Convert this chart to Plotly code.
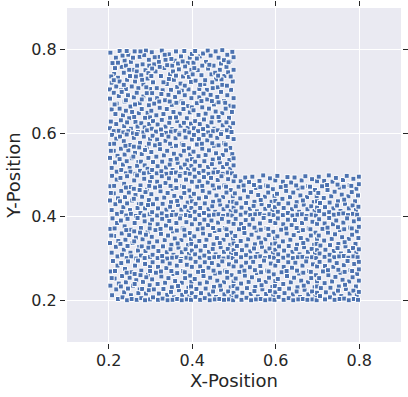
import plotly.graph_objects as go

upper_left_points = [
(.204,.793),(.217,.781),(.209,.768),(.226,.797),(.238,.774),(.231,.759),(.247,.788),(.253,.771),(.262,.796),(.259,.752),(.274,.783),(.281,.765),(.289,.798),(.296,.776),(.213,.742),(.222,.733),(.207,.721),(.236,.745),(.244,.728),(.218,.712),(.251,.737),(.267,.748),(.263,.724),(.278,.739),(.271,.708),(.288,.751),(.293,.731),(.283,.717),(.299,.706),(.241,.706),(.255,.712),(.229,.703),(.203,.705),(.241,.762),(.268,.762),(.285,.787),(.215,.756),(.297,.762),(.233,.786),(.276,.796),(.206,.736),(.249,.752),(.28,.728),(.226,.724),(.295,.744),(.265,.736),(.236,.716),(.212,.727),(.258,.781),(.29,.71),(.243,.797),(.222,.769),
(.303,.794),(.318,.783),(.309,.765),(.327,.798),(.336,.776),(.344,.789),(.352,.762),(.361,.796),(.358,.774),(.373,.784),(.381,.797),(.389,.768),(.394,.781),(.312,.748),(.325,.737),(.306,.722),(.333,.756),(.347,.741),(.339,.718),(.356,.728),(.368,.753),(.364,.711),(.378,.736),(.386,.744),(.397,.723),(.391,.705),(.372,.719),(.315,.708),(.302,.737),(.329,.703),(.349,.704),(.383,.76),(.32,.771),(.34,.763),(.366,.767),(.398,.752),(.354,.748),(.382,.714),(.31,.782),(.331,.722),(.344,.73),(.399,.79),(.377,.772),(.361,.738),(.392,.735),(.304,.755),(.322,.759),(.35,.778),(.375,.702),(.334,.788),
(.407,.797),(.418,.784),(.403,.769),(.426,.791),(.437,.798),(.433,.771),(.444,.786),(.456,.796),(.451,.762),(.463,.781),(.472,.799),(.469,.767),(.484,.788),(.496,.795),(.491,.773),(.413,.751),(.422,.739),(.408,.726),(.438,.755),(.446,.741),(.429,.718),(.457,.729),(.466,.752),(.461,.71),(.477,.737),(.486,.746),(.497,.724),(.493,.704),(.472,.716),(.417,.706),(.401,.741),(.435,.704),(.449,.708),(.482,.759),(.424,.762),(.441,.764),(.476,.775),(.499,.752),(.455,.745),(.483,.714),(.411,.779),(.431,.727),(.448,.722),(.499,.782),(.47,.729),(.462,.738),(.492,.736),(.405,.756),(.419,.716),(.487,.77),
(.212,.697),(.203,.683),(.224,.689),(.219,.671),(.231,.699),(.238,.676),(.246,.691),(.252,.664),(.26,.686),(.267,.697),(.274,.672),(.283,.688),(.291,.696),(.296,.667),(.207,.657),(.216,.646),(.226,.659),(.234,.643),(.241,.654),(.249,.636),(.256,.651),(.264,.627),(.272,.648),(.279,.658),(.287,.637),(.293,.649),(.205,.628),(.218,.622),(.229,.631),(.237,.617),(.244,.626),(.253,.611),(.261,.639),(.269,.616),(.278,.624),(.286,.614),(.297,.622),(.203,.612),(.212,.605),(.224,.606),(.235,.602),(.247,.605),(.258,.6),(.27,.603),(.283,.602),(.292,.607),(.214,.669),(.241,.679),(.279,.681),(.299,.681),(.263,.669),(.299,.638),
(.304,.696),(.316,.684),(.326,.694),(.309,.671),(.335,.679),(.343,.692),(.351,.668),(.359,.687),(.368,.698),(.374,.676),(.382,.691),(.39,.665),(.398,.684),(.302,.654),(.314,.643),(.322,.661),(.331,.646),(.339,.658),(.347,.637),(.355,.651),(.364,.629),(.37,.647),(.379,.658),(.387,.636),(.394,.65),(.306,.629),(.317,.621),(.327,.632),(.336,.616),(.345,.625),(.352,.61),(.361,.638),(.372,.618),(.38,.625),(.389,.613),(.397,.623),(.303,.611),(.313,.604),(.325,.609),(.337,.601),(.349,.604),(.36,.606),(.37,.601),(.382,.606),(.393,.602),(.321,.676),(.346,.676),(.378,.672),(.399,.662),(.362,.673),
(.405,.697),(.417,.686),(.427,.695),(.411,.672),(.436,.681),(.444,.692),(.452,.669),(.46,.687),(.469,.699),(.476,.677),(.484,.691),(.491,.666),(.499,.684),(.403,.655),(.415,.644),(.424,.662),(.432,.647),(.44,.659),(.448,.638),(.456,.652),(.465,.63),(.472,.648),(.48,.659),(.488,.637),(.495,.651),(.407,.629),(.418,.622),(.428,.633),(.437,.617),(.446,.626),(.453,.611),(.463,.639),(.473,.619),(.482,.626),(.49,.614),(.498,.624),(.404,.612),(.414,.605),(.426,.61),(.438,.602),(.45,.605),(.461,.607),(.471,.602),(.483,.607),(.494,.603),(.422,.677),(.447,.677),(.479,.673),(.499,.664),(.463,.674),
(.208,.596),(.218,.587),(.204,.574),(.227,.592),(.236,.581),(.243,.597),(.251,.572),(.26,.589),(.267,.598),(.275,.577),(.284,.592),(.291,.566),(.299,.586),(.212,.558),(.221,.546),(.229,.563),(.238,.549),(.247,.559),(.255,.54),(.263,.553),(.271,.531),(.279,.55),(.287,.56),(.295,.541),(.203,.541),(.215,.53),(.226,.538),(.234,.525),(.243,.533),(.25,.517),(.259,.544),(.268,.522),(.277,.532),(.286,.523),(.293,.515),(.207,.517),(.219,.508),(.23,.512),(.241,.504),(.252,.508),(.264,.503),(.275,.51),(.284,.504),(.297,.506),(.213,.575),(.24,.57),(.273,.566),(.296,.575),(.26,.568),(.205,.558),
(.305,.594),(.316,.585),(.327,.596),(.311,.571),(.336,.582),(.343,.592),(.352,.569),(.36,.588),(.369,.597),(.375,.575),(.384,.59),(.392,.564),(.399,.585),(.302,.555),(.314,.544),(.323,.562),(.332,.547),(.34,.558),(.348,.536),(.356,.551),(.365,.529),(.372,.547),(.38,.558),(.388,.535),(.395,.549),(.306,.531),(.317,.521),(.328,.532),(.337,.518),(.346,.525),(.353,.512),(.363,.539),(.373,.518),(.382,.525),(.39,.514),(.398,.522),(.304,.512),(.315,.504),(.326,.509),(.338,.503),(.35,.505),(.361,.506),(.372,.502),(.384,.505),(.394,.503),(.322,.574),(.347,.575),(.379,.572),(.361,.57),(.399,.538),
(.404,.596),(.416,.586),(.427,.596),(.411,.573),(.436,.583),(.444,.594),(.452,.57),(.46,.589),(.469,.598),(.476,.576),(.485,.591),(.491,.565),(.499,.586),(.403,.556),(.415,.545),(.424,.563),(.432,.548),(.44,.559),(.449,.537),(.457,.552),(.466,.53),(.473,.548),(.481,.559),(.489,.536),(.496,.55),(.407,.532),(.418,.522),(.429,.533),(.438,.519),(.447,.526),(.454,.513),(.464,.54),(.474,.519),(.483,.526),(.491,.515),(.499,.523),(.405,.513),(.416,.505),(.427,.51),(.439,.503),(.451,.506),(.462,.507),(.473,.503),(.485,.506),(.495,.504),(.423,.575),(.448,.576),(.48,.573),(.463,.571),(.499,.54),
]
lower_left_points = [
(.208,.498),(.219,.489),(.204,.473),(.228,.493),(.237,.479),(.244,.497),(.252,.471),(.261,.487),(.268,.499),(.276,.475),(.285,.491),(.292,.465),(.299,.484),(.212,.456),(.222,.444),(.23,.462),(.239,.447),(.248,.458),(.256,.439),(.264,.452),(.272,.43),(.28,.448),(.288,.459),(.296,.44),(.203,.439),(.216,.43),(.227,.437),(.235,.423),(.244,.432),(.251,.416),(.26,.443),(.269,.421),(.278,.431),(.287,.42),(.294,.428),(.207,.416),(.22,.407),(.231,.411),(.242,.403),(.253,.407),(.265,.402),(.276,.409),(.285,.403),(.298,.406),(.213,.474),(.241,.47),(.274,.464),(.297,.474),(.26,.467),(.205,.457),
(.303,.495),(.316,.484),(.327,.497),(.311,.47),(.336,.481),(.344,.492),(.353,.467),(.361,.487),(.37,.498),(.376,.474),(.385,.489),(.393,.463),(.399,.484),(.302,.454),(.315,.443),(.324,.461),(.333,.446),(.341,.457),(.349,.435),(.357,.45),(.366,.428),(.373,.446),(.381,.457),(.389,.434),(.396,.448),(.306,.43),(.318,.42),(.329,.431),(.338,.417),(.347,.424),(.354,.411),(.364,.438),(.374,.417),(.383,.424),(.391,.413),(.398,.421),(.304,.411),(.316,.403),(.327,.408),(.339,.402),(.351,.404),(.362,.405),(.373,.401),(.385,.404),(.395,.402),(.323,.473),(.348,.474),(.38,.471),(.362,.469),(.399,.437),
(.406,.496),(.417,.485),(.428,.495),(.412,.472),(.437,.482),(.445,.493),(.453,.468),(.461,.488),(.47,.497),(.477,.475),(.486,.49),(.492,.464),(.499,.485),(.404,.455),(.416,.444),(.425,.462),(.433,.447),(.441,.458),(.45,.436),(.458,.451),(.467,.429),(.474,.447),(.482,.458),(.49,.435),(.497,.449),(.408,.431),(.419,.421),(.43,.432),(.439,.418),(.448,.425),(.455,.412),(.465,.439),(.475,.418),(.484,.425),(.492,.414),(.499,.422),(.406,.412),(.417,.404),(.428,.409),(.44,.403),(.452,.405),(.463,.406),(.474,.402),(.486,.405),(.496,.403),(.424,.474),(.449,.475),(.481,.472),(.464,.47),(.498,.436),
(.503,.497),(.516,.485),(.527,.494),(.511,.472),(.536,.483),(.544,.496),(.553,.469),(.561,.486),(.57,.499),(.577,.475),(.586,.492),(.593,.466),(.599,.487),(.502,.456),(.515,.444),(.524,.463),(.533,.448),(.541,.459),(.549,.436),(.558,.452),(.566,.43),(.574,.448),(.582,.458),(.59,.436),(.597,.45),(.506,.432),(.518,.422),(.529,.433),(.538,.419),(.547,.426),(.555,.413),(.564,.44),(.575,.419),(.584,.426),(.592,.415),(.598,.423),(.504,.413),(.516,.405),(.528,.41),(.539,.404),(.551,.406),(.562,.407),(.573,.403),(.585,.406),(.595,.404),(.523,.475),(.548,.476),(.581,.473),(.563,.471),(.599,.438),
(.604,.498),(.617,.484),(.628,.495),(.612,.471),(.637,.482),(.645,.494),(.654,.468),(.662,.487),(.671,.497),(.678,.474),(.687,.49),(.694,.464),(.699,.485),(.603,.455),(.616,.443),(.625,.462),(.634,.447),(.642,.458),(.65,.435),(.659,.451),(.667,.429),(.675,.447),(.683,.457),(.691,.435),(.698,.449),(.607,.431),(.619,.421),(.63,.432),(.639,.418),(.648,.425),(.656,.412),(.665,.439),(.676,.418),(.685,.425),(.693,.414),(.699,.422),(.605,.412),(.617,.404),(.629,.409),(.64,.403),(.652,.405),(.663,.406),(.674,.402),(.686,.405),(.696,.403),(.624,.474),(.649,.475),(.682,.472),(.664,.47),(.699,.437),
(.703,.496),(.716,.486),(.727,.499),(.711,.473),(.736,.484),(.744,.493),(.753,.47),(.761,.488),(.77,.498),(.777,.476),(.786,.491),(.793,.467),(.799,.496),(.702,.457),(.715,.445),(.724,.464),(.733,.449),(.741,.46),(.749,.437),(.758,.453),(.766,.431),(.774,.449),(.782,.459),(.79,.437),(.797,.451),(.706,.433),(.718,.423),(.729,.434),(.738,.42),(.747,.427),(.755,.414),(.764,.441),(.775,.42),(.784,.427),(.792,.416),(.798,.424),(.704,.414),(.716,.406),(.728,.411),(.739,.405),(.751,.407),(.762,.408),(.773,.404),(.785,.407),(.795,.405),(.723,.476),(.748,.477),(.781,.474),(.763,.472),(.799,.478),
(.209,.396),(.22,.385),(.204,.371),(.229,.391),(.238,.377),(.245,.395),(.253,.369),(.262,.385),(.269,.397),(.277,.373),(.286,.389),(.293,.363),(.299,.382),(.213,.354),(.223,.342),(.231,.36),(.24,.345),(.249,.356),(.257,.337),(.265,.35),(.273,.328),(.281,.346),(.289,.357),(.297,.338),(.203,.337),(.217,.328),(.228,.335),(.236,.321),(.245,.33),(.252,.314),(.261,.341),(.27,.319),(.279,.329),(.288,.318),(.295,.326),(.207,.314),(.221,.305),(.232,.309),(.243,.301),(.254,.305),(.266,.3),(.277,.307),(.286,.301),(.299,.304),(.214,.372),(.242,.368),(.275,.362),(.298,.372),(.261,.365),(.206,.355),
(.304,.393),(.317,.382),(.328,.395),(.312,.368),(.337,.379),(.345,.39),(.354,.365),(.362,.385),(.371,.396),(.377,.372),(.386,.387),(.394,.361),(.399,.382),(.303,.352),(.316,.341),(.325,.359),(.334,.344),(.342,.355),(.35,.333),(.358,.348),(.367,.326),(.374,.344),(.382,.355),(.39,.332),(.397,.346),(.307,.328),(.319,.318),(.33,.329),(.339,.315),(.348,.322),(.355,.309),(.365,.336),(.375,.315),(.384,.322),(.392,.311),(.399,.319),(.305,.309),(.317,.301),(.328,.306),(.34,.3),(.352,.302),(.363,.303),(.374,.299),(.386,.302),(.396,.3),(.324,.371),(.349,.372),(.381,.369),(.363,.367),(.398,.335),
(.407,.394),(.418,.383),(.429,.393),(.413,.37),(.438,.38),(.446,.391),(.454,.366),(.462,.386),(.471,.395),(.478,.373),(.487,.388),(.493,.362),(.499,.383),(.405,.353),(.417,.342),(.426,.36),(.434,.345),(.442,.356),(.451,.334),(.459,.349),(.468,.327),(.475,.345),(.483,.356),(.491,.333),(.498,.347),(.409,.329),(.42,.319),(.431,.33),(.44,.316),(.449,.323),(.456,.31),(.466,.337),(.476,.316),(.485,.323),(.493,.312),(.499,.32),(.407,.31),(.418,.302),(.429,.307),(.441,.301),(.453,.303),(.464,.304),(.475,.3),(.487,.303),(.497,.301),(.425,.372),(.45,.373),(.482,.37),(.465,.368),(.499,.336),
(.504,.395),(.517,.383),(.528,.392),(.512,.37),(.537,.381),(.545,.394),(.554,.367),(.562,.384),(.571,.397),(.578,.373),(.587,.39),(.594,.364),(.599,.385),(.503,.354),(.516,.342),(.525,.361),(.534,.346),(.542,.357),(.55,.334),(.559,.35),(.567,.328),(.575,.346),(.583,.356),(.591,.334),(.598,.348),(.507,.33),(.519,.32),(.53,.331),(.539,.317),(.548,.324),(.556,.311),(.565,.338),(.576,.317),(.585,.324),(.593,.313),(.599,.321),(.505,.311),(.517,.303),(.529,.308),(.54,.302),(.552,.304),(.563,.305),(.574,.301),(.586,.304),(.596,.302),(.524,.373),(.549,.374),(.582,.371),(.564,.369),(.599,.336),
(.605,.396),(.618,.382),(.629,.393),(.613,.369),(.638,.38),(.646,.392),(.655,.366),(.663,.385),(.672,.395),(.679,.372),(.688,.388),(.695,.362),(.699,.383),(.604,.353),(.617,.341),(.626,.36),(.635,.345),(.643,.356),(.651,.333),(.66,.349),(.668,.327),(.676,.345),(.684,.355),(.692,.333),(.699,.347),(.608,.329),(.62,.319),(.631,.33),(.64,.316),(.649,.323),(.657,.31),(.666,.337),(.677,.316),(.686,.323),(.694,.312),(.699,.32),(.606,.31),(.618,.302),(.63,.307),(.641,.301),(.653,.303),(.664,.304),(.675,.3),(.687,.303),(.697,.301),(.625,.372),(.65,.373),(.683,.37),(.665,.368),(.698,.335),
(.704,.394),(.717,.384),(.728,.397),(.712,.371),(.737,.382),(.745,.391),(.754,.368),(.762,.386),(.771,.396),(.778,.374),(.787,.389),(.794,.365),(.799,.394),(.703,.355),(.716,.343),(.725,.362),(.734,.347),(.742,.358),(.75,.335),(.759,.351),(.767,.329),(.775,.347),(.783,.357),(.791,.335),(.798,.349),(.707,.331),(.719,.321),(.73,.332),(.739,.318),(.748,.325),(.756,.312),(.765,.339),(.776,.318),(.785,.325),(.793,.314),(.799,.322),(.705,.312),(.717,.304),(.729,.309),(.74,.303),(.752,.305),(.763,.306),(.774,.302),(.786,.305),(.796,.303),(.724,.374),(.749,.375),(.782,.372),(.764,.37),(.799,.376),
]
bottom_points = [
(.21,.294),(.221,.283),(.205,.269),(.23,.289),(.239,.275),(.246,.293),(.254,.267),(.263,.283),(.27,.295),(.278,.271),(.287,.287),(.294,.261),(.299,.28),(.214,.252),(.224,.24),(.232,.258),(.241,.243),(.25,.254),(.258,.235),(.266,.248),(.274,.226),(.282,.244),(.29,.255),(.298,.236),(.204,.235),(.218,.226),(.229,.233),(.237,.219),(.246,.228),(.253,.212),(.262,.239),(.271,.217),(.28,.227),(.289,.216),(.296,.224),(.208,.212),(.222,.203),(.233,.207),(.244,.2),(.255,.203),(.267,.201),(.278,.205),(.287,.2),(.299,.202),(.215,.27),(.243,.266),(.276,.26),(.299,.27),(.262,.263),(.207,.253),
(.305,.291),(.318,.28),(.329,.293),(.313,.266),(.338,.277),(.346,.288),(.355,.263),(.363,.283),(.372,.294),(.378,.27),(.387,.285),(.395,.259),(.399,.28),(.304,.25),(.317,.239),(.326,.257),(.335,.242),(.343,.253),(.351,.231),(.359,.246),(.368,.224),(.375,.242),(.383,.253),(.391,.23),(.398,.244),(.308,.226),(.32,.216),(.331,.227),(.34,.213),(.349,.22),(.356,.207),(.366,.234),(.376,.213),(.385,.22),(.393,.209),(.399,.217),(.306,.207),(.318,.201),(.329,.204),(.341,.2),(.353,.201),(.364,.203),(.375,.2),(.387,.202),(.397,.201),(.325,.269),(.35,.27),(.382,.267),(.364,.265),(.397,.233),
(.408,.292),(.419,.281),(.43,.291),(.414,.268),(.439,.278),(.447,.289),(.455,.264),(.463,.284),(.472,.293),(.479,.271),(.488,.286),(.494,.26),(.499,.281),(.406,.251),(.418,.24),(.427,.258),(.435,.243),(.443,.254),(.452,.232),(.46,.247),(.469,.225),(.476,.243),(.484,.254),(.492,.231),(.499,.245),(.41,.227),(.421,.217),(.432,.228),(.441,.214),(.45,.221),(.457,.208),(.467,.235),(.477,.214),(.486,.221),(.494,.21),(.499,.218),(.408,.208),(.419,.201),(.43,.205),(.442,.2),(.454,.202),(.465,.203),(.476,.201),(.488,.202),(.498,.2),(.426,.27),(.451,.271),(.483,.268),(.466,.266),(.499,.234),
(.505,.293),(.518,.281),(.529,.29),(.513,.268),(.538,.279),(.546,.292),(.555,.265),(.563,.282),(.572,.295),(.579,.271),(.588,.288),(.595,.262),(.599,.283),(.504,.252),(.517,.24),(.526,.259),(.535,.244),(.543,.255),(.551,.232),(.56,.248),(.568,.226),(.576,.244),(.584,.254),(.592,.232),(.599,.246),(.508,.228),(.52,.218),(.531,.229),(.54,.215),(.549,.222),(.557,.209),(.566,.236),(.577,.215),(.586,.222),(.594,.211),(.599,.219),(.506,.209),(.518,.201),(.53,.206),(.541,.2),(.553,.202),(.564,.203),(.575,.2),(.587,.202),(.597,.201),(.525,.271),(.55,.272),(.583,.269),(.565,.267),(.598,.234),
(.606,.294),(.619,.28),(.63,.291),(.614,.267),(.639,.278),(.647,.29),(.656,.264),(.664,.283),(.673,.293),(.68,.27),(.689,.286),(.696,.26),(.699,.281),(.605,.251),(.618,.239),(.627,.258),(.636,.243),(.644,.254),(.652,.231),(.661,.247),(.669,.225),(.677,.243),(.685,.253),(.693,.231),(.699,.245),(.609,.227),(.621,.217),(.632,.228),(.641,.214),(.65,.221),(.658,.208),(.667,.235),(.678,.214),(.687,.221),(.695,.21),(.699,.218),(.607,.208),(.619,.201),(.631,.205),(.642,.2),(.654,.202),(.665,.203),(.676,.201),(.688,.202),(.698,.2),(.626,.27),(.651,.271),(.684,.268),(.666,.266),(.699,.233),
(.705,.292),(.718,.282),(.729,.295),(.713,.269),(.738,.28),(.746,.289),(.755,.266),(.763,.284),(.772,.294),(.779,.272),(.788,.287),(.795,.263),(.799,.292),(.704,.253),(.717,.241),(.726,.26),(.735,.245),(.743,.256),(.751,.233),(.76,.249),(.768,.227),(.776,.245),(.784,.255),(.792,.233),(.799,.247),(.708,.229),(.72,.219),(.731,.23),(.74,.216),(.749,.223),(.757,.21),(.766,.237),(.777,.216),(.786,.223),(.794,.212),(.799,.22),(.706,.21),(.718,.202),(.73,.207),(.741,.201),(.753,.203),(.764,.204),(.775,.2),(.787,.203),(.797,.201),(.725,.272),(.75,.273),(.783,.27),(.765,.268),(.799,.274),
]
points = upper_left_points + lower_left_points + bottom_points
x_values = [p[0] for p in points]
y_values = [p[1] for p in points]
tick_values = [0.2, 0.4, 0.6, 0.8]
tick_labels = ["0.2", "0.4", "0.6", "0.8"]
TEXT = "#262626"
fig = go.Figure(go.Scatter(x=x_values, y=y_values, mode="markers", cliponaxis=False,
    marker=dict(symbol="square", size=5, color="#4C72B0", line=dict(color="white", width=1))))
axis = dict(range=[0.1, 0.9], tickvals=tick_values, ticktext=tick_labels, showgrid=True, gridcolor="white", gridwidth=1,
    zeroline=False, ticks="outside", ticklen=5, tickwidth=1, tickcolor=TEXT, mirror="ticks", showline=True,
    linecolor="rgba(0,0,0,0)", linewidth=2,
    tickfont=dict(family="DejaVu Sans", size=16, color=TEXT), title_font=dict(family="DejaVu Sans", size=18, color=TEXT))
fig.update_layout(width=408, height=397, margin=dict(l=67, r=7, t=8, b=55), plot_bgcolor="#EAEAF2", paper_bgcolor="white", showlegend=False)
fig.update_xaxes(**axis, automargin="bottom", ticklabelstandoff=-2, title_text="X-Position", title_standoff=0)
fig.update_yaxes(**axis, automargin="left", title_text="Y-Position", title_standoff=6)
fig.write_html("out.html", config=dict(displayModeBar=False), post_script="document.body.style.margin='0';document.body.style.overflow='hidden';")
